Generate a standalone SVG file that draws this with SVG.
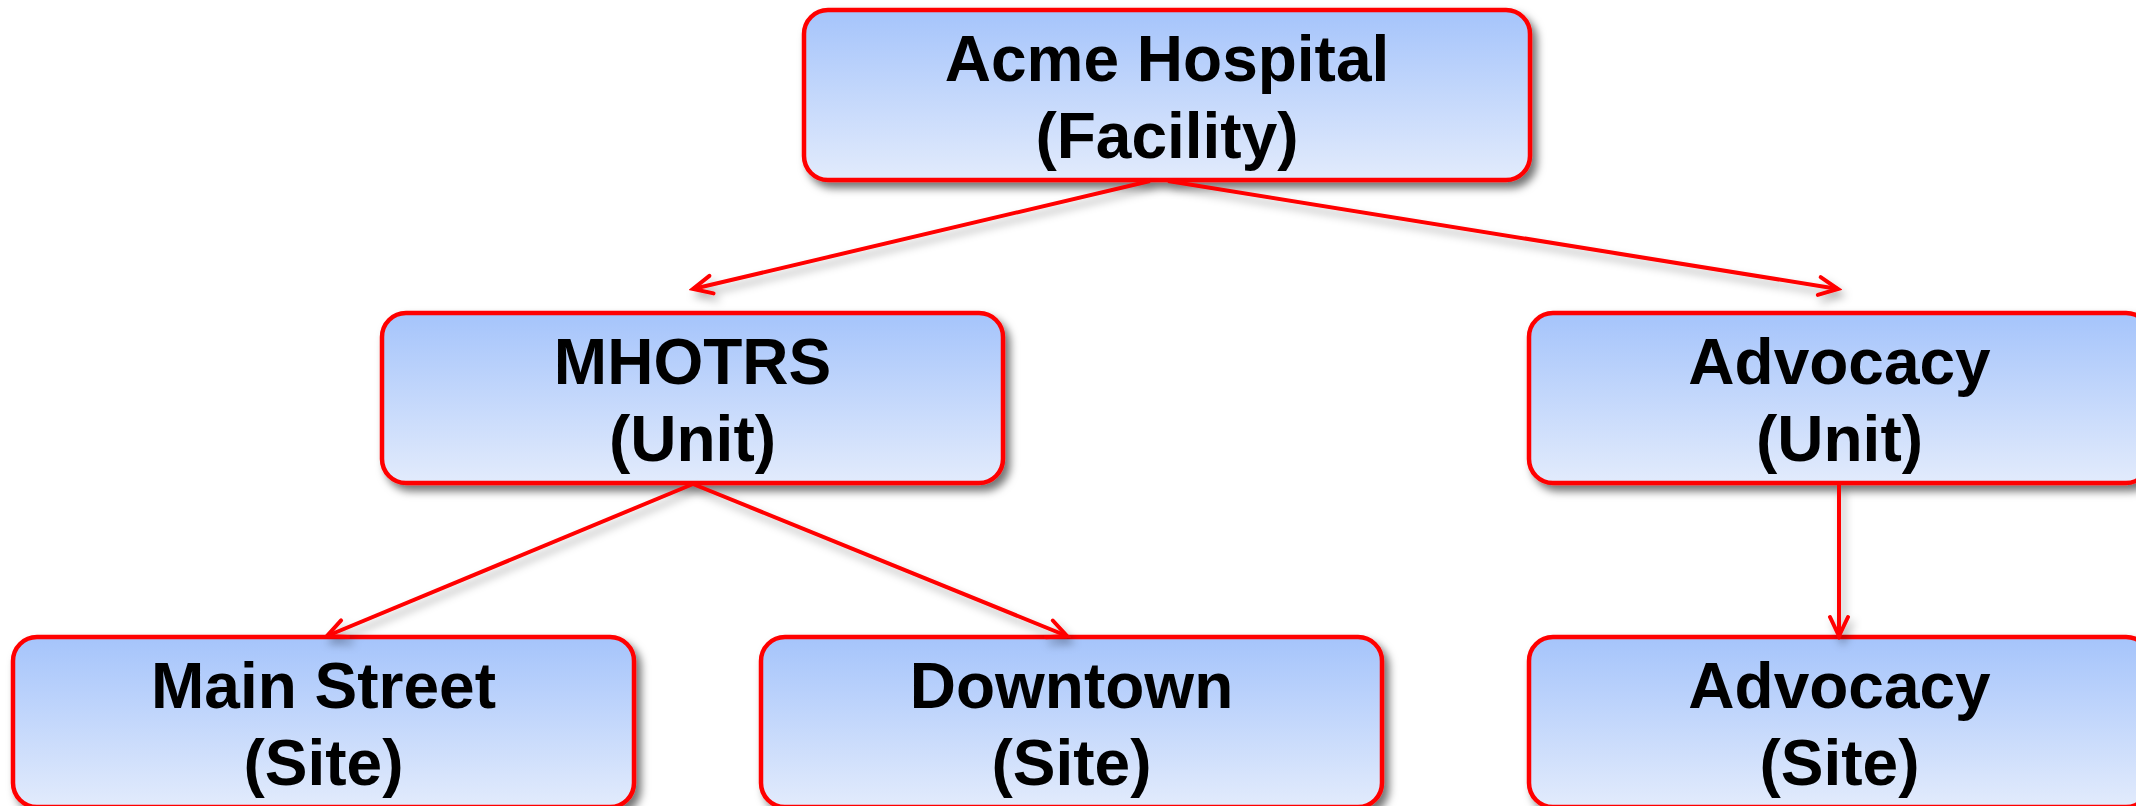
<svg xmlns="http://www.w3.org/2000/svg" width="2136" height="806" viewBox="0 0 2136 806">
  <defs>
    <linearGradient id="nodeFill" x1="0" y1="0" x2="0" y2="1">
      <stop offset="0" stop-color="#a5c4fb"/>
      <stop offset="1" stop-color="#e2ebfc"/>
    </linearGradient>
    <filter id="shadow" x="-10%" y="-20%" width="130%" height="150%">
      <feDropShadow dx="5" dy="6" stdDeviation="4" flood-color="#000" flood-opacity="0.55"/>
    </filter>
    <filter id="lshadow" x="-10%" y="-50%" width="130%" height="200%">
      <feDropShadow dx="4" dy="6" stdDeviation="4" flood-color="#000" flood-opacity="0.3"/>
    </filter>
    <marker id="arrow" markerUnits="userSpaceOnUse" markerWidth="26" markerHeight="26" viewBox="0 0 26 26" refX="22" refY="13" orient="auto">
      <path d="M3,4 L22,13 L3,22" fill="none" stroke="#ff0000" stroke-width="4" stroke-linecap="round" stroke-linejoin="miter"/>
    </marker>
    <style>
      .box { fill: url(#nodeFill); stroke: #ff0000; stroke-width: 4.5; filter: url(#shadow); }
      .lbl { font-family: "Liberation Sans", Arial, sans-serif; font-weight: bold; font-size: 64px; fill: #000; text-anchor: middle; }
      .conn { fill: none; stroke: #ff0000; stroke-width: 4; marker-end: url(#arrow); }
    </style>
  </defs>
  <rect width="2136" height="806" fill="#ffffff"/>

  <g id="node-acme">
    <rect class="box" x="804" y="10" width="726" height="170" rx="24" ry="24"/>
    <text class="lbl" x="1167" y="81">Acme Hospital</text>
    <text class="lbl" x="1167" y="158">(Facility)</text>
  </g>

  <g id="node-mhotrs">
    <rect class="box" x="382" y="313" width="621" height="170" rx="24" ry="24"/>
    <text class="lbl" x="692.5" y="384">MHOTRS</text>
    <text class="lbl" x="692.5" y="461">(Unit)</text>
  </g>

  <g id="node-advocacy-unit">
    <rect class="box" x="1529" y="313" width="621" height="170" rx="24" ry="24"/>
    <text class="lbl" x="1839.5" y="384">Advocacy</text>
    <text class="lbl" x="1839.5" y="461">(Unit)</text>
  </g>

  <g id="node-main-street">
    <rect class="box" x="13" y="637" width="621" height="170" rx="24" ry="24"/>
    <text class="lbl" x="323.5" y="708">Main Street</text>
    <text class="lbl" x="323.5" y="785">(Site)</text>
  </g>

  <g id="node-downtown">
    <rect class="box" x="761" y="637" width="621" height="170" rx="24" ry="24"/>
    <text class="lbl" x="1071.5" y="708">Downtown</text>
    <text class="lbl" x="1071.5" y="785">(Site)</text>
  </g>

  <g id="node-advocacy-site">
    <rect class="box" x="1529" y="637" width="621" height="170" rx="24" ry="24"/>
    <text class="lbl" x="1839.5" y="708">Advocacy</text>
    <text class="lbl" x="1839.5" y="785">(Site)</text>
  </g>

  <g id="connectors" filter="url(#lshadow)">
    <line class="conn" x1="1150" y1="181" x2="693" y2="289"/>
    <line class="conn" x1="1168" y1="181" x2="1838" y2="289"/>
    <line class="conn" x1="693" y1="484" x2="327" y2="636"/>
    <line class="conn" x1="693" y1="484" x2="1067" y2="636"/>
    <line class="conn" x1="1839" y1="484" x2="1839" y2="636"/>
  </g>
</svg>
